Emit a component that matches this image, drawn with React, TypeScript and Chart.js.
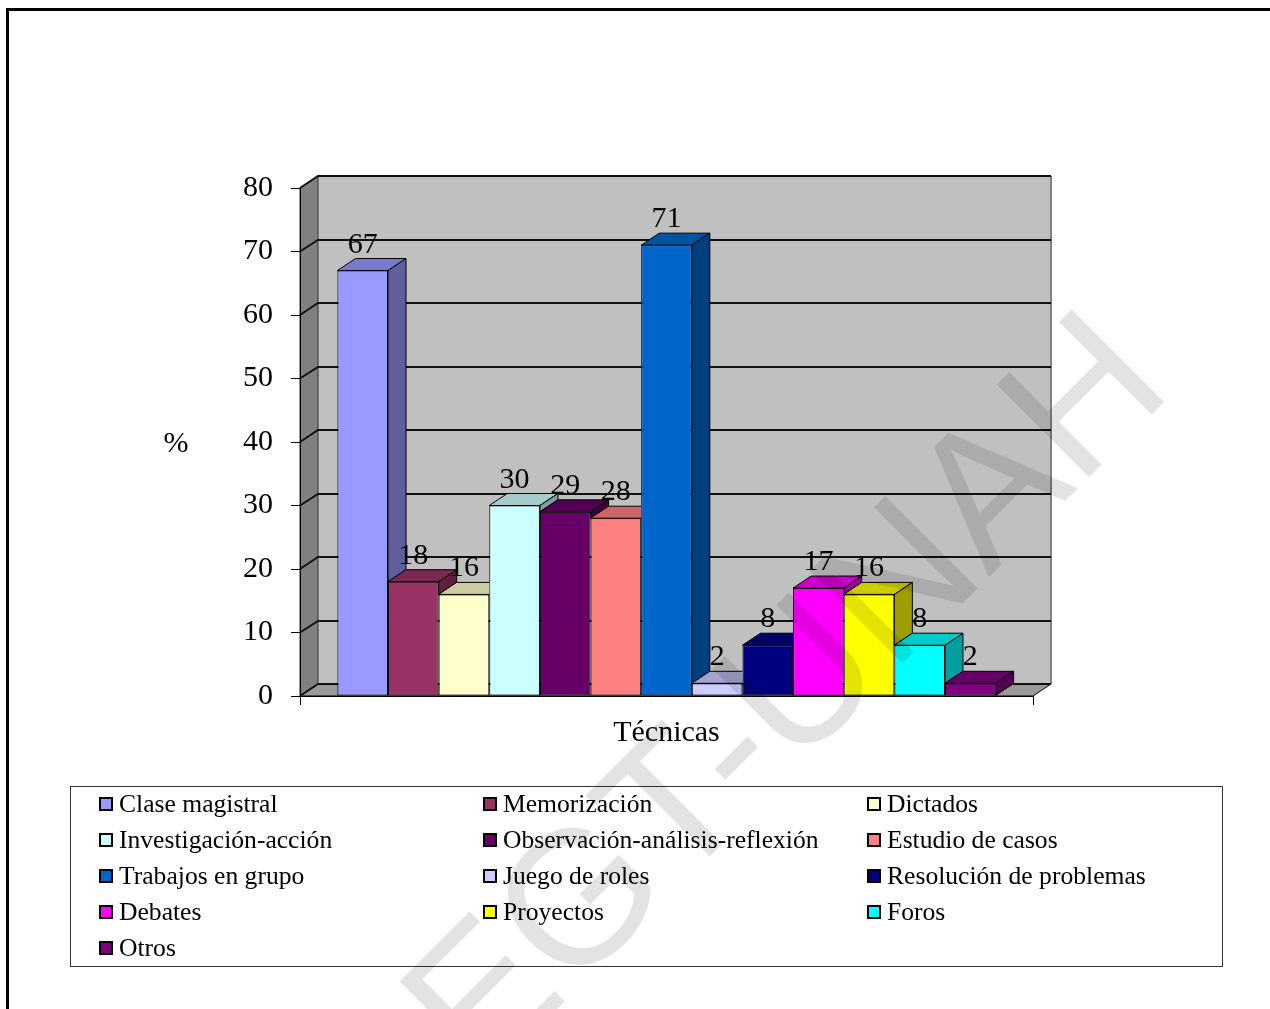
import React, { useEffect, useRef } from 'react';
import { Chart, registerables } from 'chart.js';

Chart.register(...registerables);

// ---- data ----
const categories = ['Técnicas'];
const seriesNames = [
  'Clase magistral',
  'Memorización',
  'Dictados',
  'Investigación-acción',
  'Observación-análisis-reflexión',
  'Estudio de casos',
  'Trabajos en grupo',
  'Juego de roles',
  'Resolución de problemas',
  'Debates',
  'Proyectos',
  'Foros',
  'Otros',
];
const seriesValues = [67, 18, 16, 30, 29, 28, 71, 2, 8, 17, 16, 8, 2];
const seriesColors = [
  '#9999FF', '#993366', '#FFFFCC', '#CCFFFF', '#660066', '#FF8080', '#0066CC',
  '#CCCCFF', '#000080', '#FF00FF', '#FFFF00', '#00FFFF', '#800080',
];
const yMin = 0;
const yMax = 80;
const yStep = 10;
const yAxisLabel = '%';
const watermarkText = 'EGT-UNAH';

// ---- styling ----
const SERIF = "'Liberation Serif', 'Times New Roman', serif";
const DX = 18; // 3D depth offset (x)
const DY = 12; // 3D depth offset (y)

function shade(hex: string, f: number): string {
  const n = parseInt(hex.slice(1), 16);
  const r = Math.round(((n >> 16) & 255) * f);
  const g = Math.round(((n >> 8) & 255) * f);
  const b = Math.round((n & 255) * f);
  return `rgb(${r},${g},${b})`;
}

function poly(ctx: CanvasRenderingContext2D, pts: number[][]) {
  ctx.beginPath();
  ctx.moveTo(pts[0][0], pts[0][1]);
  for (let i = 1; i < pts.length; i++) ctx.lineTo(pts[i][0], pts[i][1]);
  ctx.closePath();
}

// walls, floor and back gridlines
const wallsPlugin = {
  id: 'walls3d',
  beforeDraw(chart: any) {
    const { ctx, chartArea: a, scales } = chart;
    const ys = scales.y;
    ctx.save();
    ctx.fillStyle = '#ffffff';
    ctx.fillRect(0, 0, chart.width, chart.height);

    // back wall
    ctx.fillStyle = '#c0c0c0';
    ctx.fillRect(a.left + DX, a.top - DY, a.right - a.left, a.bottom - a.top);
    ctx.strokeStyle = '#808080';
    ctx.lineWidth = 2;
    ctx.beginPath();
    ctx.moveTo(a.right + DX, a.top - DY);
    ctx.lineTo(a.right + DX, a.bottom - DY);
    ctx.stroke();

    // left wall
    ctx.fillStyle = '#808080';
    poly(ctx, [[a.left, a.top], [a.left + DX, a.top - DY], [a.left + DX, a.bottom - DY], [a.left, a.bottom]]);
    ctx.fill();
    ctx.strokeStyle = '#333';
    ctx.lineWidth = 1;
    ctx.stroke();

    // floor
    ctx.fillStyle = '#999999';
    poly(ctx, [[a.left, a.bottom], [a.right, a.bottom], [a.right + DX, a.bottom - DY], [a.left + DX, a.bottom - DY]]);
    ctx.fill();
    ctx.strokeStyle = '#000';
    ctx.lineWidth = 1;
    ctx.stroke();

    // gridlines on left and back walls
    ctx.strokeStyle = '#111';
    ctx.lineWidth = 2;
    for (let v = yMin; v <= yMax; v += yStep) {
      const py = ys.getPixelForValue(v);
      const by = Math.round(py - DY);
      ctx.beginPath();
      ctx.moveTo(a.left, py);
      ctx.lineTo(a.left + DX, by);
      ctx.lineTo(a.right + DX, by);
      ctx.stroke();
    }
    ctx.restore();
  },
};

// top and side faces of the bars, plus value labels
const bars3dPlugin = {
  id: 'bars3d',
  afterDatasetsDraw(chart: any) {
    const { ctx } = chart;
    const bars = chart.getSortedVisibleDatasetMetas().map((m: any) => {
      const el = m.data[0];
      const p = el.getProps(['x', 'y', 'base', 'width'], true);
      const ds = chart.data.datasets[m.index];
      return {
        L: p.x - p.width / 2,
        R: p.x + p.width / 2,
        cx: p.x,
        top: p.y,
        base: p.base,
        color: ds.backgroundColor as string,
        value: ds.data[0] as number,
      };
    }).sort((p: any, q: any) => p.L - q.L);

    ctx.save();
    ctx.lineWidth = 1;
    ctx.strokeStyle = '#000';
    for (let i = 0; i < bars.length; i++) {
      const b = bars[i];
      const nb = bars[i + 1];

      // top face (hidden behind a taller right neighbour)
      ctx.save();
      if (nb && nb.top < b.top) {
        ctx.beginPath();
        ctx.rect(0, 0, b.R, chart.height);
        ctx.clip();
      }
      poly(ctx, [[b.L, b.top], [b.R, b.top], [b.R + DX, b.top - DY], [b.L + DX, b.top - DY]]);
      ctx.fillStyle = shade(b.color, 0.8);
      ctx.fill();
      ctx.stroke();
      ctx.restore();

      // side face (only the part above the right neighbour)
      const low = nb ? nb.top : b.base;
      if (low > b.top) {
        poly(ctx, [[b.R, b.top], [b.R + DX, b.top - DY], [b.R + DX, low - DY], [b.R, low]]);
        ctx.fillStyle = shade(b.color, 0.62);
        ctx.fill();
        ctx.stroke();
      }
    }

    ctx.fillStyle = '#000';
    ctx.font = `30px ${SERIF}`;
    ctx.textAlign = 'center';
    ctx.textBaseline = 'alphabetic';
    for (const b of bars) {
      ctx.fillText(String(b.value), b.cx, b.top - 18);
    }
    ctx.restore();
  },
};

// axis unit, legend box, page frame and watermark
const extrasPlugin = {
  id: 'extras',
  afterDraw(chart: any) {
    const { ctx, chartArea: a } = chart;
    ctx.save();

    // unit label
    ctx.fillStyle = '#000';
    ctx.font = `30px ${SERIF}`;
    ctx.textAlign = 'center';
    ctx.textBaseline = 'alphabetic';
    ctx.fillText(yAxisLabel, 176, (a.top + a.bottom) / 2 + 10);

    // legend
    const lx = 70, ly = 786, lw = 1152, lh = 180;
    ctx.strokeStyle = '#333';
    ctx.lineWidth = 1;
    ctx.strokeRect(lx + 0.5, ly + 0.5, lw, lh);
    ctx.font = `25.6px ${SERIF}`;
    ctx.textAlign = 'left';
    chart.data.datasets.forEach((ds: any, i: number) => {
      const col = i % 3;
      const row = Math.floor(i / 3);
      const mx = 99 + col * 384;
      const my = 797 + row * 36;
      ctx.fillStyle = ds.backgroundColor;
      ctx.fillRect(mx, my, 14, 14);
      ctx.strokeStyle = '#000';
      ctx.lineWidth = 2;
      ctx.strokeRect(mx + 1, my + 1, 12, 12);
      ctx.fillStyle = '#000';
      ctx.fillText(ds.label, mx + 20, my + 15);
    });

    // page frame
    ctx.fillStyle = '#000';
    ctx.fillRect(6, 8, chart.width - 6, 3);
    ctx.fillRect(6, 8, 3, chart.height - 8);

    // watermark
    ctx.translate(828, 738);
    ctx.rotate(-Math.PI / 4);
    ctx.font = "190px 'Liberation Sans', Arial, sans-serif";
    ctx.textAlign = 'center';
    ctx.textBaseline = 'alphabetic';
    ctx.fillStyle = 'rgba(0,0,0,0.11)';
    ctx.fillText(watermarkText, 0, 0);
    ctx.restore();
  },
};

export default function App() {
  const canvasRef = useRef<HTMLCanvasElement>(null);

  useEffect(() => {
    if (!canvasRef.current) return;
    Chart.defaults.font.family = SERIF;
    const chart = new Chart(canvasRef.current, {
      type: 'bar',
      data: {
        labels: categories,
        datasets: seriesNames.map((name, i) => ({
          label: name,
          data: [seriesValues[i]],
          backgroundColor: seriesColors[i],
          borderColor: '#000',
          borderWidth: 1,
          borderSkipped: false,
        })),
      },
      options: {
        responsive: false,
        animation: false,
        layout: { padding: { left: 0, top: 188, right: 237, bottom: 0 } },
        datasets: { bar: { categoryPercentage: 0.898, barPercentage: 1 } },
        plugins: {
          legend: { display: false },
          tooltip: { enabled: false },
        },
        scales: {
          x: {
            grid: { drawOnChartArea: false, drawTicks: true, tickLength: 9, color: '#000' },
            border: { display: true, color: '#000', width: 1 },
            ticks: { color: '#000', font: { size: 30, family: SERIF }, padding: 10 },
            afterFit: (s: any) => { s.height = 313; },
          },
          y: {
            min: yMin,
            max: yMax,
            ticks: { stepSize: yStep, color: '#000', font: { size: 30, family: SERIF }, padding: 18 },
            grid: { drawOnChartArea: false, drawTicks: true, tickLength: 9, color: '#000' },
            border: { display: true, color: '#000', width: 1 },
            afterFit: (s: any) => { s.width = 300; },
          },
        },
      },
      plugins: [wallsPlugin, bars3dPlugin, extrasPlugin],
    } as any);
    return () => chart.destroy();
  }, []);

  return (
    <div style={{ position: 'fixed', left: 0, top: 0, width: 1270, height: 1009, background: '#fff' }}>
      <canvas ref={canvasRef} width={1270} height={1009} style={{ display: 'block' }} />
    </div>
  );
}
